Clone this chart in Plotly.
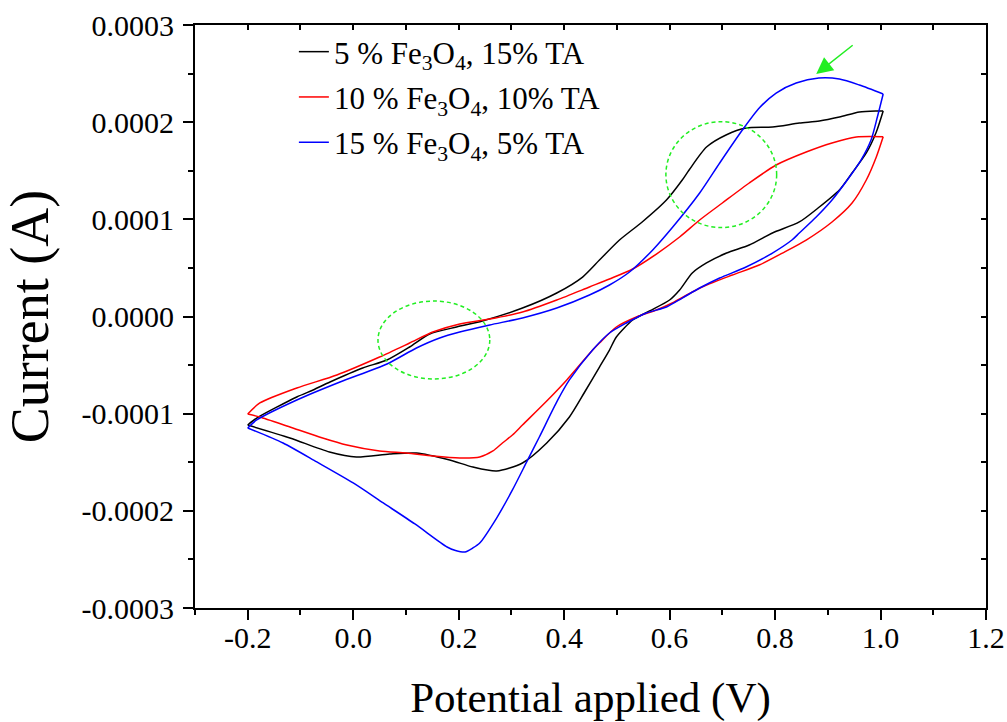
import plotly.graph_objects as go

# ---------------- data (potential in V, current in units of 1e-4 A) ----------------
# 5 % Fe3O4, 15% TA (black): forward (anodic) scan and reverse (cathodic) scan
black_fwd_v = [-0.200, -0.183, -0.107, -0.076, -0.044, 0.018, 0.064, 0.107, 0.145, 0.196,
               0.245, 0.321, 0.386, 0.435, 0.467, 0.505, 0.548, 0.594, 0.624, 0.637,
               0.670, 0.707, 0.745, 0.795, 0.846, 0.884, 0.922, 0.960, 0.992, 1.005]
black_fwd_i = [-1.117, -1.045, -0.828, -0.756, -0.674, -0.530, -0.448, -0.314, -0.180, -0.108,
               -0.046, 0.087, 0.242, 0.406, 0.581, 0.787, 0.973, 1.199, 1.405, 1.508,
               1.744, 1.868, 1.940, 1.950, 1.991, 2.012, 2.053, 2.105, 2.115, 2.115]
black_rev_v = [1.005, 0.992, 0.973, 0.946, 0.922, 0.884, 0.846, 0.795, 0.751, 0.708, 0.670,
               0.643, 0.619, 0.600, 0.562, 0.530, 0.499, 0.486, 0.467, 0.439, 0.410, 0.367,
               0.321, 0.272, 0.227, 0.183, 0.120, 0.069, 0.006, -0.045, -0.120, -0.200]
black_rev_i = [2.115, 1.899, 1.683, 1.477, 1.302, 1.127, 0.973, 0.859, 0.736, 0.653, 0.551,
               0.448, 0.273, 0.170, 0.057, -0.036, -0.211, -0.345, -0.520, -0.777, -1.034, -1.302,
               -1.508, -1.590, -1.549, -1.477, -1.405, -1.415, -1.446, -1.394, -1.250, -1.117]

# 10 % Fe3O4, 10% TA (red)
red_fwd_v = [-0.200, -0.177, -0.107, -0.031, 0.050, 0.107, 0.151, 0.202, 0.259, 0.321,
             0.386, 0.448, 0.486, 0.530, 0.575, 0.619, 0.657, 0.700, 0.751, 0.802,
             0.859, 0.908, 0.954, 1.005]
red_fwd_i = [-1.003, -0.890, -0.736, -0.602, -0.417, -0.273, -0.160, -0.077, -0.026, 0.046,
             0.170, 0.304, 0.386, 0.489, 0.643, 0.818, 0.993, 1.168, 1.374, 1.559,
             1.693, 1.786, 1.847, 1.850]
red_rev_v = [1.005, 0.992, 0.973, 0.946, 0.908, 0.859, 0.814, 0.770, 0.719, 0.670, 0.643,
             0.605, 0.575, 0.537, 0.499, 0.467, 0.454, 0.405, 0.367, 0.321, 0.302, 0.283,
             0.265, 0.240, 0.202, 0.151, 0.101, 0.050, -0.012, -0.058, -0.120, -0.177, -0.200]
red_rev_i = [1.850, 1.642, 1.405, 1.168, 0.973, 0.787, 0.653, 0.530, 0.427, 0.324, 0.252,
             0.139, 0.067, -0.005, -0.108, -0.273, -0.345, -0.653, -0.870, -1.117, -1.220, -1.302,
             -1.384, -1.446, -1.456, -1.436, -1.405, -1.384, -1.322, -1.250, -1.137, -1.034, -1.003]

# 15 % Fe3O4, 5% TA (blue)
blue_fwd_v = [-0.200, -0.183, -0.107, -0.025, 0.064, 0.120, 0.164, 0.202, 0.259, 0.321,
              0.386, 0.448, 0.486, 0.524, 0.568, 0.606, 0.657, 0.695, 0.738, 0.770,
              0.802, 0.840, 0.883, 0.922, 0.960, 1.005]
blue_fwd_i = [-1.147, -1.065, -0.859, -0.674, -0.489, -0.324, -0.221, -0.160, -0.087, -0.015,
              0.087, 0.221, 0.324, 0.458, 0.685, 0.921, 1.271, 1.580, 1.919, 2.146,
              2.300, 2.403, 2.454, 2.444, 2.382, 2.290]
blue_rev_v = [1.005, 0.994, 0.982, 0.963, 0.941, 0.908, 0.878, 0.846, 0.832, 0.795, 0.745,
              0.695, 0.657, 0.624, 0.594, 0.556, 0.518, 0.486, 0.454, 0.410, 0.388,
              0.353, 0.329, 0.302, 0.272, 0.240, 0.227, 0.212, 0.194, 0.178, 0.117, 0.057,
              0.000, -0.069, -0.133, -0.200]
blue_rev_i = [2.290, 2.053, 1.816, 1.610, 1.436, 1.199, 1.024, 0.859, 0.787, 0.653, 0.509,
              0.396, 0.293, 0.190, 0.098, 0.036, -0.067, -0.170, -0.345, -0.653, -0.859,
              -1.240, -1.497, -1.785, -2.074, -2.331, -2.382, -2.424, -2.408, -2.372, -2.135, -1.919,
              -1.713, -1.497, -1.302, -1.147]

series_names = ["5 % Fe<sub>3</sub>O<sub>4</sub>, 15% TA",
                "10 % Fe<sub>3</sub>O<sub>4</sub>, 10% TA",
                "15 % Fe<sub>3</sub>O<sub>4</sub>, 5% TA"]
series_colors = ["#000000", "#ff0000", "#0000ff"]

x_tickvals = [-0.2, 0.0, 0.2, 0.4, 0.6, 0.8, 1.0, 1.2]
x_ticktext = ["-0.2", "0.0", "0.2", "0.4", "0.6", "0.8", "1.0", "1.2"]
y_tickvals = [-0.0003, -0.0002, -0.0001, 0.0, 0.0001, 0.0002, 0.0003]
y_ticktext = ["-0.0003", "-0.0002", "-0.0001", "0.0000", "0.0001", "0.0002", "0.0003"]

# highlighted regions (centre V, centre A, half-width V, half-height A)
circles = [(0.153, -0.0000242, 0.106, 0.0000401),
           (0.698, 0.000146, 0.105, 0.0000545)]
# arrow pointing at the blue anodic peak: (head V, head A, tail V, tail A)
arrow = (0.878, 0.0002496, 0.950, 0.0002804)

SCALE = 1e-4
FONT = "Liberation Serif"

fig = go.Figure()
series = [
    (black_fwd_v, black_fwd_i, black_rev_v, black_rev_i),
    (red_fwd_v, red_fwd_i, red_rev_v, red_rev_i),
    (blue_fwd_v, blue_fwd_i, blue_rev_v, blue_rev_i),
]
for k, (fv, fi, rv, ri) in enumerate(series):
    grp = "g%d" % k
    line = dict(color=series_colors[k], width=1.5, shape="spline", smoothing=0.7)
    fig.add_trace(go.Scatter(x=fv, y=[c * SCALE for c in fi], mode="lines", name=series_names[k],
                             line=line, legendgroup=grp))
    fig.add_trace(go.Scatter(x=rv, y=[c * SCALE for c in ri], mode="lines", name=series_names[k],
                             line=line, legendgroup=grp, showlegend=False))

# invisible traces to activate mirrored top/right axes
fig.add_trace(go.Scatter(x=[None], y=[None], xaxis="x2", yaxis="y", showlegend=False, hoverinfo="skip"))
fig.add_trace(go.Scatter(x=[None], y=[None], xaxis="x", yaxis="y2", showlegend=False, hoverinfo="skip"))

for cx, cy, rx, ry in circles:
    fig.add_shape(type="circle", xref="x", yref="y", x0=cx - rx, x1=cx + rx, y0=cy - ry, y1=cy + ry,
                  line=dict(color="#22ee22", width=1.5, dash="4px,3px"))

hx, hy, tx, ty = arrow
fig.add_annotation(x=hx, y=hy, ax=tx, ay=ty, xref="x", yref="y", axref="x", ayref="y",
                   text="", showarrow=True, arrowhead=2, arrowsize=2.2, arrowwidth=1.5,
                   arrowcolor="#22ee22")

axis_common = dict(showgrid=False, zeroline=False, showline=True, linecolor="black", linewidth=2)

fig.update_layout(
    width=1007, height=722,
    margin=dict(l=195, r=21, t=25, b=114, autoexpand=False),
    paper_bgcolor="white", plot_bgcolor="white",
    font=dict(family=FONT, color="black"),
    showlegend=True,
    legend=dict(x=0.125, y=1.0, xanchor="left", yanchor="top", bgcolor="rgba(0,0,0,0)",
                font=dict(family=FONT, size=31, color="black"), tracegroupgap=2,
                itemwidth=30),
    xaxis=dict(range=[-0.3, 1.2], tickvals=x_tickvals, ticktext=x_ticktext,
               ticks="outside", ticklen=10, tickwidth=2, tickcolor="black",
               minor=dict(tickvals=[-0.3, -0.1, 0.1, 0.3, 0.5, 0.7, 0.9, 1.1], ticks="outside",
                          ticklen=5, tickwidth=2, tickcolor="black"),
               tickfont=dict(family=FONT, size=30), ticklabelstandoff=-8,
               title=dict(text="Potential applied (V)", font=dict(family=FONT, size=43), standoff=29),
               **axis_common),
    yaxis=dict(range=[-0.0003, 0.0003], tickvals=y_tickvals, ticktext=y_ticktext,
               ticks="outside", ticklen=10, tickwidth=2, tickcolor="black",
               minor=dict(tickvals=[-0.00025, -0.00015, -0.00005, 0.00005, 0.00015, 0.00025],
                          ticks="outside", ticklen=5, tickwidth=2, tickcolor="black"),
               tickfont=dict(family=FONT, size=30), ticklabelstandoff=3,
               title=dict(text="Current (A)", font=dict(family=FONT, size=54), standoff=20),
               **axis_common),
    xaxis2=dict(range=[-0.3, 1.2], overlaying="x", side="top", anchor="y",
                tickvals=[round(-0.3 + 0.1 * k, 1) for k in range(16)],
                ticks="inside", ticklen=5, tickwidth=1.5, tickcolor="black",
                showticklabels=False, **axis_common),
    yaxis2=dict(range=[-0.0003, 0.0003], overlaying="y", side="right", anchor="x",
                tickvals=[-0.0003 + 0.00005 * k for k in range(13)],
                ticks="inside", ticklen=5, tickwidth=1.5, tickcolor="black",
                showticklabels=False, **axis_common),
)

fig.write_html("out.html", config={"displayModeBar": False},
               post_script="document.body.style.margin='0px';document.body.style.overflow='hidden';")
